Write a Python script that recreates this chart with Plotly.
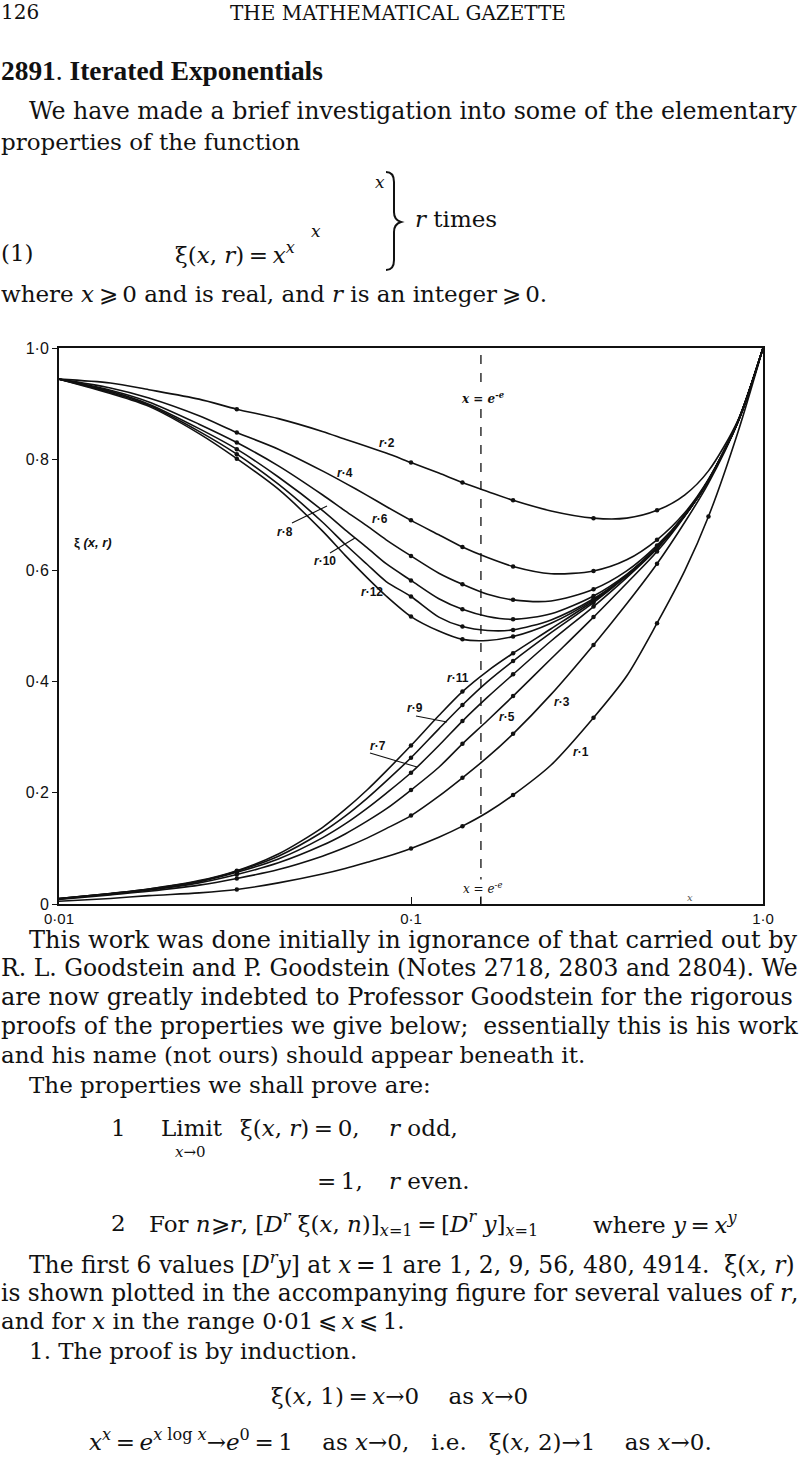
import plotly.graph_objects as go

# ---------------- data ----------------
X = [0.01, 0.014, 0.018, 0.025, 0.032, 0.042, 0.056, 0.065, 0.075, 0.085, 0.1, 0.12,
     0.14, 0.165, 0.195, 0.25, 0.33, 0.41, 0.5, 0.6, 0.7, 0.85, 1.0]
DOT_X = [0.032, 0.1, 0.14, 0.195, 0.33, 0.5]
R1_EXTRA_DOT_X = [0.7]

R1 = [0.005, 0.010, 0.015, 0.020, 0.026, 0.038, 0.054, 0.064, 0.075, 0.085, 0.100, 0.120,
      0.140, 0.165, 0.196, 0.250, 0.335, 0.410, 0.505, 0.600, 0.697, 0.850, 1.0]
R3 = [0.008, 0.0165, 0.023, 0.034, 0.046, 0.062, 0.086, 0.1015, 0.1185, 0.1355, 0.159, 0.194,
      0.227, 0.264, 0.306, 0.377, 0.466, 0.540, 0.612, 0.687, 0.757, 0.868, 1.0]
R5 = [0.009, 0.018, 0.025, 0.038, 0.053, 0.074, 0.1055, 0.126, 0.149, 0.171, 0.205, 0.246,
      0.288, 0.330, 0.374, 0.441, 0.516, 0.577, 0.634, 0.698, 0.762, 0.868, 1.0]
R7 = [0.010, 0.0185, 0.026, 0.040, 0.057, 0.081, 0.119, 0.144, 0.172, 0.199, 0.236, 0.285,
      0.329, 0.372, 0.413, 0.473, 0.535, 0.587, 0.639, 0.699, 0.762, 0.868, 1.0]
R9 = [0.010, 0.019, 0.027, 0.041, 0.059, 0.086, 0.1295, 0.158, 0.190, 0.221, 0.263, 0.315,
      0.358, 0.400, 0.437, 0.488, 0.542, 0.590, 0.640, 0.699, 0.762, 0.868, 1.0]
R11 = [0.010, 0.019, 0.027, 0.042, 0.060, 0.090, 0.1375, 0.170, 0.205, 0.239, 0.285, 0.339,
       0.382, 0.419, 0.451, 0.495, 0.545, 0.591, 0.641, 0.699, 0.762, 0.868, 1.0]
R2 = [0.944, 0.937, 0.925, 0.908, 0.890, 0.873, 0.850, 0.836, 0.823, 0.811, 0.794, 0.775,
      0.758, 0.742, 0.726, 0.707, 0.694, 0.694, 0.708, 0.736, 0.779, 0.871, 1.0]
R4 = [0.944, 0.928, 0.910, 0.878, 0.848, 0.818, 0.779, 0.757, 0.735, 0.715, 0.690, 0.664,
      0.642, 0.623, 0.607, 0.594, 0.599, 0.619, 0.655, 0.704, 0.764, 0.869, 1.0]
R6 = [0.944, 0.924, 0.903, 0.863, 0.830, 0.788, 0.736, 0.707, 0.680, 0.655, 0.626, 0.595,
      0.575, 0.557, 0.547, 0.545, 0.566, 0.599, 0.645, 0.700, 0.762, 0.869, 1.0]
R8 = [0.944, 0.922, 0.899, 0.855, 0.818, 0.768, 0.708, 0.673, 0.641, 0.612, 0.582, 0.549,
      0.530, 0.517, 0.512, 0.522, 0.554, 0.593, 0.642, 0.700, 0.762, 0.869, 1.0]
R10 = [0.944, 0.920, 0.897, 0.850, 0.809, 0.755, 0.687, 0.647, 0.611, 0.580, 0.553, 0.516,
       0.499, 0.492, 0.493, 0.511, 0.549, 0.591, 0.641, 0.699, 0.762, 0.869, 1.0]
R12 = [0.944, 0.918, 0.895, 0.846, 0.801, 0.746, 0.671, 0.627, 0.587, 0.554, 0.517, 0.491,
       0.476, 0.474, 0.481, 0.505, 0.547, 0.591, 0.641, 0.699, 0.762, 0.869, 1.0]

CURVES = {1: R1, 2: R2, 3: R3, 4: R4, 5: R5, 6: R6, 7: R7, 8: R8, 9: R9, 10: R10, 11: R11, 12: R12}

DASH_X = 0.158          # x = e^-e line as drawn
Y_TICKS = [0, 0.2, 0.4, 0.6, 0.8, 1.0]
Y_TICK_TEXT = ["0", "0·2", "0·4", "0·6", "0·8", "1·0"]
X_TICKS = [0.01, 0.1, DASH_X, 1.0]
X_TICK_TEXT = ["0·01", "0·1", "", "1·0"]

# ---------------- page geometry (pixels) ----------------
W, H = 800, 1479
PL, PR, PT, PB = 59, 763, 348, 904


def px(x):
    return (x - PL) / (PR - PL)


def py(y):
    return (PB - y) / (PB - PT)


fig = go.Figure()
INK = "#111111"

for r, ys in CURVES.items():
    fig.add_trace(go.Scatter(x=X, y=ys, mode="lines",
                             line=dict(color=INK, width=1.6, shape="spline", smoothing=0.8),
                             hoverinfo="skip", showlegend=False))
    dots = DOT_X + (R1_EXTRA_DOT_X if r == 1 else [])
    dx = [x for x in X if x in dots]
    dy = [ys[X.index(x)] for x in dx]
    fig.add_trace(go.Scatter(x=dx, y=dy, mode="markers",
                             marker=dict(color=INK, size=4.5),
                             hoverinfo="skip", showlegend=False))

shapes = []
shapes.append(dict(type="line", xref="x", yref="y", x0=DASH_X, x1=DASH_X, y0=0, y1=1,
                   line=dict(color=INK, width=1.3, dash="dash")))
for (x0, y0, x1, y1) in [(292, 523, 327, 506), (330, 553, 355, 538),
                         (416, 716, 447, 722), (370, 753, 417, 767)]:
    shapes.append(dict(type="line", xref="paper", yref="paper",
                       x0=px(x0), y0=py(y0), x1=px(x1), y1=py(y1),
                       line=dict(color=INK, width=1.1)))


def ppath(pts):
    s = ""
    for cmd, coords in pts:
        s += cmd
        s += " ".join(f"{px(a):.5f},{py(b):.5f}" for a, b in coords) + " "
    return s.strip()


brace = ppath([("M", [(386, 172)]), ("Q", [(394, 172), (394, 182)]), ("L", [(394, 212)]),
               ("Q", [(394, 220), (401, 222)]), ("Q", [(394, 224), (394, 232)]),
               ("L", [(394, 260)]), ("Q", [(394, 270), (386, 270)])])
shapes.append(dict(type="path", xref="paper", yref="paper", path=brace,
                   line=dict(color=INK, width=2)))

ann = []
SERIF = "DejaVu Serif"
SANS = "Liberation Sans"


def text(x, y, t, size=23, family=SERIF, anchor="left", color=INK, bg=None):
    d = dict(xref="paper", yref="paper", x=px(x), y=py(y), text=t, showarrow=False,
             xanchor=anchor, yanchor="middle", font=dict(family=family, size=size, color=color),
             borderpad=0)
    if bg:
        d["bgcolor"] = bg
    ann.append(d)


# header
text(0, 12, "126", size=20)
text(398, 13, "THE MATHEMATICAL GAZETTE", size=20, anchor="center")
text(0, 71, "<b>2891</b>. <b>Iterated Exponentials</b>", size=27.4, family="Liberation Serif")
text(28, 111, "We have made a brief investigation into some of the elementary", size=23.7)
text(0, 142, "properties of the function")
# equation (1)
text(374, 182, "<i>x</i>", size=17)
text(414, 219, "<i>r</i> times")
text(0, 253, "(1)")
text(174, 253, "ξ(<i>x</i>, <i>r</i>)\u2009=\u2009<i>x</i><sup><i>x</i></sup>")
text(310, 231, "<i>x</i>", size=17)
text(0, 294, "where <i>x</i>\u2009⩾\u20090 and is real, and <i>r</i> is an integer\u2009⩾\u20090.")

# text below chart
body = [
    (28, 940, "This work was done initially in ignorance of that carried out by", 24.0),
    (0, 968, "R. L. Goodstein and P. Goodstein (Notes 2718, 2803 and 2804). We", 23.5),
    (0, 997, "are now greatly indebted to Professor Goodstein for the rigorous", 24.0),
    (0, 1026, "proofs of the properties we give below;  essentially this is his work", 23.5),
    (0, 1055, "and his name (not ours) should appear beneath it.", 23),
    (28, 1085, "The properties we shall prove are:", 23),
    (28, 1263, "The first 6 values [<i>D</i><sup><i>r</i></sup><i>y</i>] at <i>x</i>\u2009=\u20091 are 1, 2, 9, 56, 480, 4914.  ξ(<i>x</i>, <i>r</i>)", 23.4),
    (0, 1292, "is shown plotted in the accompanying figure for several values of <i>r</i>,", 23.3),
    (0, 1321, "and for <i>x</i> in the range 0·01\u2009⩽\u2009<i>x</i>\u2009⩽\u20091.", 23),
    (28, 1351, "1. The proof is by induction.", 23),
]
for x, y, t, s in body:
    text(x, y, t, size=s)

text(110, 1128, "1")
text(160, 1128, "Limit")
text(190, 1152, "<i>x</i>→0", size=15, anchor="center")
text(239, 1128, "ξ(<i>x</i>, <i>r</i>)\u2009=\u20090,")
text(388, 1128, "<i>r</i> odd,")
text(316, 1181, "=\u20091,")
text(388, 1181, "<i>r</i> even.")
text(110, 1223, "2")
text(148, 1223, "For <i>n</i>⩾<i>r</i>, [<i>D</i><sup><i>r</i></sup> ξ(<i>x</i>, <i>n</i>)]<sub><i>x</i>=1</sub>\u2009=\u2009[<i>D</i><sup><i>r</i></sup> <i>y</i>]<sub><i>x</i>=1</sub>")
text(592, 1223, "where <i>y</i>\u2009=\u2009<i>x</i><sup><i>y</i></sup>")
text(399, 1396, "ξ(<i>x</i>, 1)\u2009=\u2009<i>x</i>→0    as <i>x</i>→0", anchor="center")
text(400, 1440, "<i>x</i><sup><i>x</i></sup>\u2009=\u2009<i>e</i><sup><i>x</i> log <i>x</i></sup>→<i>e</i><sup>0</sup>\u2009=\u20091    as <i>x</i>→0,   i.e.   ξ(<i>x</i>, 2)→1    as <i>x</i>→0.", anchor="center")

# chart labels
lab = [("2", 387, 443), ("4", 345, 473), ("6", 380, 519), ("8", 285, 532), ("10", 325, 561),
       ("12", 372, 592), ("11", 458, 678), ("9", 415, 708), ("7", 378, 746), ("5", 507, 717),
       ("3", 562, 702), ("1", 581, 752)]
for n, x, y in lab:
    text(x, y, f"<b><i>r</i>·{n}</b>", size=12, family=SANS, anchor="center")
text(93, 542, "<b>ξ <i>(x, r)</i></b>", size=13, family=SANS, anchor="center")
text(482, 398, "<b><i>x</i> = <i>e</i><sup>-<i>e</i></sup></b>", size=12, family=SERIF, anchor="center", bg="white")
text(482, 888, "<i>x</i> = <i>e</i><sup>-<i>e</i></sup>", size=12, family=SERIF, anchor="center", bg="white")
text(690, 897, "<i>x</i>", size=10, family=SERIF, anchor="center", color="#555")

fig.update_layout(
    width=W, height=H,
    margin=dict(l=PL, r=W - PR, t=PT, b=H - PB, pad=0),
    paper_bgcolor="white", plot_bgcolor="white",
    shapes=shapes, annotations=ann, showlegend=False,
    font=dict(family=SANS, color=INK),
)
fig.update_xaxes(type="log", range=[-2, 0], tickvals=X_TICKS, ticktext=X_TICK_TEXT,
                 ticks="inside", ticklen=7, tickwidth=1.3, tickcolor=INK,
                 showgrid=False, zeroline=False, showline=True, mirror=True,
                 linecolor=INK, linewidth=2, tickfont=dict(family=SANS, size=15, color=INK))
fig.update_yaxes(range=[0, 1], tickvals=Y_TICKS, ticktext=Y_TICK_TEXT,
                 ticks="outside", ticklen=5, tickwidth=1.3, tickcolor=INK,
                 showgrid=False, zeroline=False, showline=True, mirror=True,
                 linecolor=INK, linewidth=2, tickfont=dict(family=SANS, size=16, color=INK))

fig.write_html("out.html", config={"displayModeBar": False},
               post_script="document.body.style.margin='0px';")
